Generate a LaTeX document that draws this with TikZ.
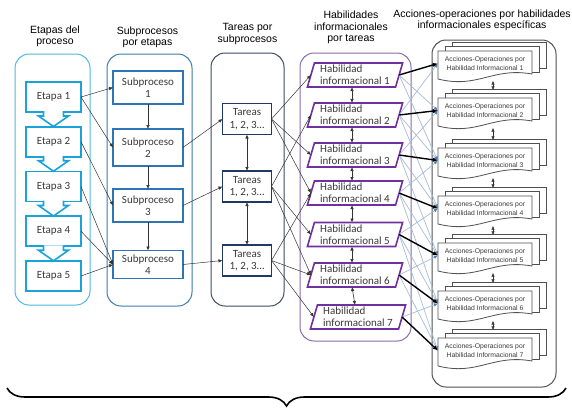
\documentclass[tikz,border=0pt]{standalone}
\usepackage{fontspec}
\setmainfont{Liberation Sans}
\newfontfamily\boxfont{Carlito}
\usetikzlibrary{arrows.meta,decorations.pathreplacing,shapes.geometric}
\definecolor{EtapaCyan}{HTML}{1AA3D9}
\definecolor{EtapaFrame}{HTML}{4DB8DE}
\definecolor{SubBlue}{HTML}{2E75B6}
\definecolor{SubFrame}{HTML}{3A7DA8}
\definecolor{TareaNavy}{HTML}{1F3864}
\definecolor{TareaFrame}{HTML}{3B4A66}
\definecolor{HabPurple}{HTML}{7030A0}
\definecolor{HabFrame}{HTML}{8A6AAE}
\definecolor{AccGray}{HTML}{505050}
\definecolor{CrossBlue}{HTML}{A3BCD4}
\definecolor{CrossTip}{HTML}{4A7EBB}
\definecolor{TextGray}{HTML}{3A3A3A}
\tikzset{
  frame/.style={rounded corners=14pt,line width=1pt},
  headtext/.style={align=center,font=\fontsize{10.5}{11.5}\selectfont},
  boxtext/.style={fill=white,outer sep=0pt,inner sep=1pt,align=center,text=TextGray,
    font=\boxfont\fontsize{11}{12.5}\selectfont},
  etapabox/.style={boxtext,draw=EtapaCyan,line width=1.6pt,minimum width=55pt,minimum height=30pt},
  subbox/.style={boxtext,draw=SubBlue,line width=1.6pt,minimum width=70pt,minimum height=33pt},
  tareabox/.style={boxtext,draw=TareaNavy,line width=1.6pt,minimum width=49pt,minimum height=31pt},
  habbox/.style={boxtext,align=left,draw=HabPurple,line width=1.6pt,trapezium,
    trapezium left angle=74,trapezium right angle=106,trapezium stretches=true,
    minimum width=96pt,minimum height=24pt,font=\boxfont\fontsize{11}{12}\selectfont},
  accpage/.style={draw=AccGray,line width=0.8pt,fill=white},
  acctext/.style={inner sep=0pt,minimum width=94pt,minimum height=22pt,align=center,
    text=TextGray,font=\fontsize{6.8}{9.5}\selectfont},
  flowarrow/.style={draw=black!80,line width=0.5pt,-{Latex[length=4pt,width=3.5pt]}},
  dblarrow/.style={draw=black!80,line width=0.6pt,{Latex[length=4pt,width=3.5pt]}-{Latex[length=4pt,width=3.5pt]}},
  boldarrow/.style={draw=black,line width=1.4pt,-{Latex[length=5pt,width=4.5pt]}},
  crossarrow/.style={draw=CrossBlue,line width=0.7pt,-{Latex[length=4pt,width=3.5pt,color=CrossTip]}},
}
\begin{document}
\begin{tikzpicture}[x=1pt,y=-1pt]
\useasboundingbox (0,0) rectangle (572,410);
% column frames
\draw[frame,EtapaFrame] (15,54) rectangle (90,305);
\draw[frame,SubFrame] (107,54) rectangle (192,306);
\draw[frame,TareaFrame] (211,53) rectangle (284,306);
\draw[frame,HabFrame] (300,53) rectangle (411,341);
\draw[frame,AccGray] (432,40) rectangle (556,387);
% headings
\node[headtext] (hEtapa) at (55,36.5) {Etapas del\\proceso};
\node[headtext] (hSub) at (147.5,37.5) {Subprocesos\\por etapas};
\node[headtext] (hTarea) at (247.5,34) {Tareas por\\subprocesos};
\node[headtext] (hHab) at (351,27.5) {Habilidades\\informacionales\\por tareas};
\node[headtext] (hAcc) at (482,20.5) {Acciones-operaciones por habilidades\\informacionales específicas};
% etapas
\foreach \n/\y in {1/97,2/141.75,3/186.5,4/231.25,5/276}
  \node[etapabox] (e\n) at (53.5,\y) {Etapa \n};
\foreach \n in {1,...,4}{
  \fill[white] ([xshift=-10pt,yshift=1pt]e\n.south) -- ([xshift=-10pt,yshift=-4pt]e\n.south)
    -- ([xshift=-15pt,yshift=-4pt]e\n.south) -- ([yshift=-14.5pt]e\n.south)
    -- ([xshift=15pt,yshift=-4pt]e\n.south) -- ([xshift=10pt,yshift=-4pt]e\n.south)
    -- ([xshift=10pt,yshift=1pt]e\n.south) -- cycle;
  \draw[EtapaCyan,line width=1.6pt] ([xshift=-10pt,yshift=0.8pt]e\n.south) -- ([xshift=-10pt,yshift=-4pt]e\n.south)
    -- ([xshift=-15pt,yshift=-4pt]e\n.south) -- ([yshift=-14.5pt]e\n.south)
    -- ([xshift=15pt,yshift=-4pt]e\n.south) -- ([xshift=10pt,yshift=-4pt]e\n.south)
    -- ([xshift=10pt,yshift=0.8pt]e\n.south);
}
% subprocesos
\node[subbox] (s1) at (148,87.5) {Subproceso\\1};
\node[subbox,minimum height=37pt] (s2) at (148,147.5) {Subproceso\\2};
\node[subbox] (s3) at (148,205.5) {Subproceso\\3};
\node[subbox,minimum height=28pt] (s4) at (148,264.5) {Subproceso\\4};
% tareas
\foreach \n/\y in {1/119,2/186.5,3/260.5}
  \node[tareabox] (t\n) at (247,\y) {Tareas\\1, 2, 3…};
% habilidades
\foreach \n/\x/\y in {1/355/75,2/355/115,3/355/155,4/355/193,5/355/234.5,6/355/275,7/358/317}
  \node[habbox] (h\n) at (\x,\y) {Habilidad\\informacional \n};
% acciones-operaciones
\foreach \n/\t in {1/51,2/98,3/148,4/196,5/243,6/291,7/338}{
  \draw[accpage] (452,\t-9) rectangle (546,\t+17);
  \draw[accpage] (445,\t-5) rectangle (539,\t+21);
  \draw[accpage] (438,\t) -- (532,\t) -- (532,\t+23)
    .. controls (492,\t+16) and (478,\t+38) .. (438,\t+28) -- cycle;
  \node[acctext] (a\n) at (485,\t+12.5) {Acciones-Operaciones por\\Habilidad Informacional \n};
}
% connectors
\foreach \a/\b in {1/1,1/2,2/3,3/4,4/4,5/4}
  \draw[flowarrow] (e\a.east) -- (s\b.west);
\foreach \a/\b in {1/2,2/3,3/4}
  \draw[flowarrow] (s\a.south) -- (s\b.north);
\foreach \a/\b in {2/1,3/2,4/3}
  \draw[flowarrow] (s\a.east) -- (t\b.west);
\draw[dblarrow] (t1.south) -- (t2.north);
\draw[dblarrow] (t2.south) -- (t3.north);
\foreach \a/\b in {1/1,1/3,1/4,2/2,2/5,2/6,3/4,3/6,3/7}
  \draw[flowarrow] (t\a.east) -- (h\b.west);
\foreach \a/\b in {1/2,2/3,3/4,4/5,5/6,6/7}
  \draw[dblarrow] ([xshift=-3pt]h\a.south) -- ([xshift=-3pt]h\b.north);
\foreach \a/\b in {2/1,3/2,4/3,5/4,6/5,7/6,1/2,2/3,3/4,4/5,5/6,6/7,1/3,2/4,3/5,4/6,5/7}
  \draw[crossarrow] (h\a.east) -- (a\b.west);
\foreach \n in {1,...,7}
  \draw[boldarrow] (h\n.east) -- (a\n.west);
\foreach \a/\b in {1/2,2/3,3/4,4/5,5/6,6/7}
  \draw[dblarrow] ([xshift=8pt,yshift=-6pt]a\a.south) -- ([xshift=8pt,yshift=9pt]a\b.north);
% overall brace
\draw[decorate,decoration={brace,mirror,amplitude=18pt},line width=1.6pt] (7,388) -- (566,388);
\end{tikzpicture}
\end{document}
